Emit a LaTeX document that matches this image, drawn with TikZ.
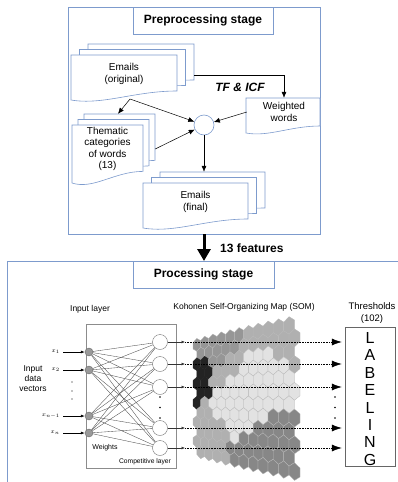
\documentclass[tikz,border=0pt]{standalone}
\usepackage{fontspec}
\setmainfont{Liberation Sans}
\usetikzlibrary{positioning,calc,arrows.meta}

\definecolor{stageblue}{RGB}{125,155,205}
\definecolor{hexa}{RGB}{150,150,150}
\definecolor{hexb}{RGB}{176,176,176}
\definecolor{hexk}{RGB}{35,35,35}
\definecolor{hexl}{RGB}{226,226,226}
\definecolor{hexd}{RGB}{135,135,135}
\colorlet{edgea}{white!72!black}
\colorlet{edgeb}{white!72!black}
\colorlet{edgel}{white!72!black}
\colorlet{edged}{white!72!black}
\colorlet{edgek}{hexk}

% page of a document shape: left, top, width, height
\newcommand{\docsheet}[4]{%
  \draw[sheet] (#1,#2) -- (#1+#3,#2) -- (#1+#3,#2-0.8*#4)
    .. controls (#1+0.6*#3,#2-0.8*#4) and (#1+0.3*#3,#2-1.12*#4) .. (#1,#2-#4) -- cycle;}

% map of the SOM grid into the picture
\pgfmathdeclarefunction{somx}{2}{\pgfmathparse{193+7.5*(#1+0.5)+0.157*(#1+0.5)^2}}
\pgfmathdeclarefunction{somy}{2}{\pgfmathparse{-(398+(#2-4.763)*(10.96+0.407*(#1+0.5)))}}

\begin{document}
\begin{tikzpicture}[x=1pt,y=1pt,
  every node/.style={inner sep=0pt},
  sheet/.style={draw=stageblue,fill=white,line width=0.6pt},
  stagebox/.style={draw=stageblue,fill=white,line width=0.7pt,minimum width=140,minimum height=27,
    font=\fontsize{12}{14}\selectfont\bfseries},
  doctext/.style={align=center,font=\fontsize{10}{11.5}\selectfont},
  flow/.style={-{Latex[length=6pt,width=5pt]},line width=0.5pt},
  innode/.style={circle,draw=black!60,fill=black!40,minimum size=8},
  outnode/.style={circle,draw=black!55,fill=white,minimum size=15},
  smalltext/.style={font=\fontsize{8.5}{10}\selectfont},
  wline/.style={black!70,line width=0.35pt},
  hexcell/.style={line width=0.3pt,line join=round}]
\useasboundingbox (0,0) rectangle (398,-482);
\clip (0,0) rectangle (398,-482);

% preprocessing stage
\node[draw=stageblue,line width=0.7pt,minimum width=252,minimum height=227] (pre) at (194,-120.5) {};
\node[stagebox] (pretitle) at (203,-20.5) {Preprocessing stage};

\foreach \k in {2,1,0} \docsheet{71+8.5*\k}{-55+5.5*\k}{106}{45};
\docsheet{246}{-98}{74}{35}
\foreach \k in {2,1,0} \docsheet{72+6*\k}{-125+5.5*\k}{71}{58};
\foreach \k in {2,1,0} \docsheet{143+8.5*\k}{-183+5.5*\k}{105}{45};

\node[doctext,minimum width=106,minimum height=38] (emo) at (124,-74) {Emails\\(original)};
\node[doctext,minimum width=74,minimum height=28] (ww) at (284,-112) {Weighted\\words};
\node[doctext,minimum width=71,minimum height=48] (thm) at (107.5,-149) {Thematic\\categories\\of words\\(13)};
\node[doctext,minimum width=105,minimum height=38] (emf) at (195.5,-202) {Emails\\(final)};
\node[circle,draw=stageblue,fill=white,line width=0.6pt,minimum size=20] (mix) at (204,-125) {};
\node[font=\fontsize{12}{14}\selectfont\bfseries\itshape] (tficf) at (240,-87) {TF \& ICF};

\coordinate (emobot) at (130,-99);
\draw[flow] ([shift={(17,-1)}]emo.east) -| (ww.north);
\draw[flow] (emobot) -- ($(thm.north)+(10.5,11)$);
\draw[flow] (emobot) -- (mix);
\draw[flow] ([xshift=12pt]thm.east) -- (mix);
\draw[flow] (ww.west) -- (mix);
\draw[flow] (mix) -- ($(mix |- emf.north)+(0,11)$);

% processing stage
\node[draw=stageblue,line width=0.7pt,minimum width=420,minimum height=240,anchor=north west] (proc) at (7,-261) {};
\draw[-{Triangle[length=12pt,width=13pt]},line width=3pt] (pre.south -| mix) -- (proc.north -| mix);
\node[anchor=west,font=\fontsize{12}{14}\selectfont\bfseries] (feat) at (220,-248) {13 features};
\node[stagebox,minimum width=141] (proctitle) at (203.5,-274.5) {Processing stage};

\node[smalltext] (inlab) at (90,-309) {Input layer};
\node[smalltext] (somlab) at (244,-307) {Kohonen Self-Organizing Map (SOM)};
\node[align=center,font=\fontsize{9.5}{11.5}\selectfont] (thr) at (372,-313) {Thresholds\\(102)};
\node[smalltext,align=center] (ivec) at (33,-379) {Input\\data\\vectors};

% SOM grid
\foreach \row [count=\j from 0] in {
  {a,a,a,a,a,a,b,b,b,b,b},
  {a,a,a,a,a,b,b,b,b,b,b},
  {k,k,a,a,b,b,l,l,l,b,b},
  {k,k,b,b,b,l,l,l,l,l,b},
  {k,k,b,b,l,l,l,l,l,l,l},
  {k,k,l,l,l,l,l,l,l,l,l},
  {k,b,l,l,l,l,l,l,l,l,l},
  {b,b,l,l,l,l,l,l,d,d,d},
  {b,b,b,b,l,l,l,d,d,d,d},
  {b,b,b,b,l,d,d,d,d,d,d},
  {b,b,b,b,d,d,d,d,d,d,d},
  {b,b,b,b,d,d,d,d,d,d,d}} {
  \foreach \c [count=\i from 0] in \row {
    \pgfmathsetmacro{\hu}{\i+0.5*mod(\j,2)}
    \pgfmathsetmacro{\hv}{0.866*\j}
    \draw[hexcell,draw=edge\c,fill=hex\c] plot[samples at={30,90,...,330}]
      ({somx(\hu+0.5774*cos(\x),\hv+0.5774*sin(\x))},{somy(\hu+0.5774*cos(\x),\hv+0.5774*sin(\x))}) -- cycle;
  }
}

\node[draw=black!45,minimum width=90,minimum height=144] (inbox) at (131,-396) {};
\foreach \n/\y in {1/352,2/370,3/416,4/433}
  \node[innode] (i\n) at (89,-\y) {};
\foreach \m/\y in {1/342,2/364,3/387,4/428,5/448}
  \node[outnode] (c\m) at (160,-\y) {};
\foreach \n in {1,...,4}
  \foreach \m in {1,...,5}
    \draw[wline] (i\n) -- (c\m);

\foreach \n/\y/\t in {1/352/x_1,2/370/x_2,3/416/x_{n-1},4/433/x_n} {
  \node[anchor=east,font=\fontsize{6}{7}\selectfont] (x\n) at (60,-\y) {$\t$};
  \draw[-{Latex[length=4pt,width=3pt]},line width=0.6pt] ([xshift=3pt]x\n.east) -- (i\n);
}
\foreach \y in {382,391,399} \fill (72,-\y) circle (0.7);
\foreach \y in {397,407.5,418} {
  \fill (160,-\y) circle (0.8);
  \fill (335,-\y) circle (0.8);
}
\node[font=\fontsize{7}{8}\selectfont] (wts) at (105,-448) {Weights};
\node[font=\fontsize{6.7}{8}\selectfont] (clay) at (145,-462) {Competitive layer};

\node[draw=black!60,minimum width=50,minimum height=139] (lab) at (370,-396.5) {};
\node[align=center,font=\fontsize{16}{17.4}\selectfont] (labtext) at (370,-399) {L\\A\\B\\E\\L\\I\\N\\G};

\foreach \m in {1,...,5} {
  \coordinate (o\m) at ($(c\m)+(25,0)$);
  \draw[-{Latex[length=3.5pt,width=3pt]},black!80,line width=0.6pt] (c\m) -- (o\m);
  \draw[densely dotted,line width=0.6pt,-{Latex[length=10pt,width=7pt]},shorten >=3pt] (o\m) -- (lab.west |- c\m);
}
\end{tikzpicture}
\end{document}
